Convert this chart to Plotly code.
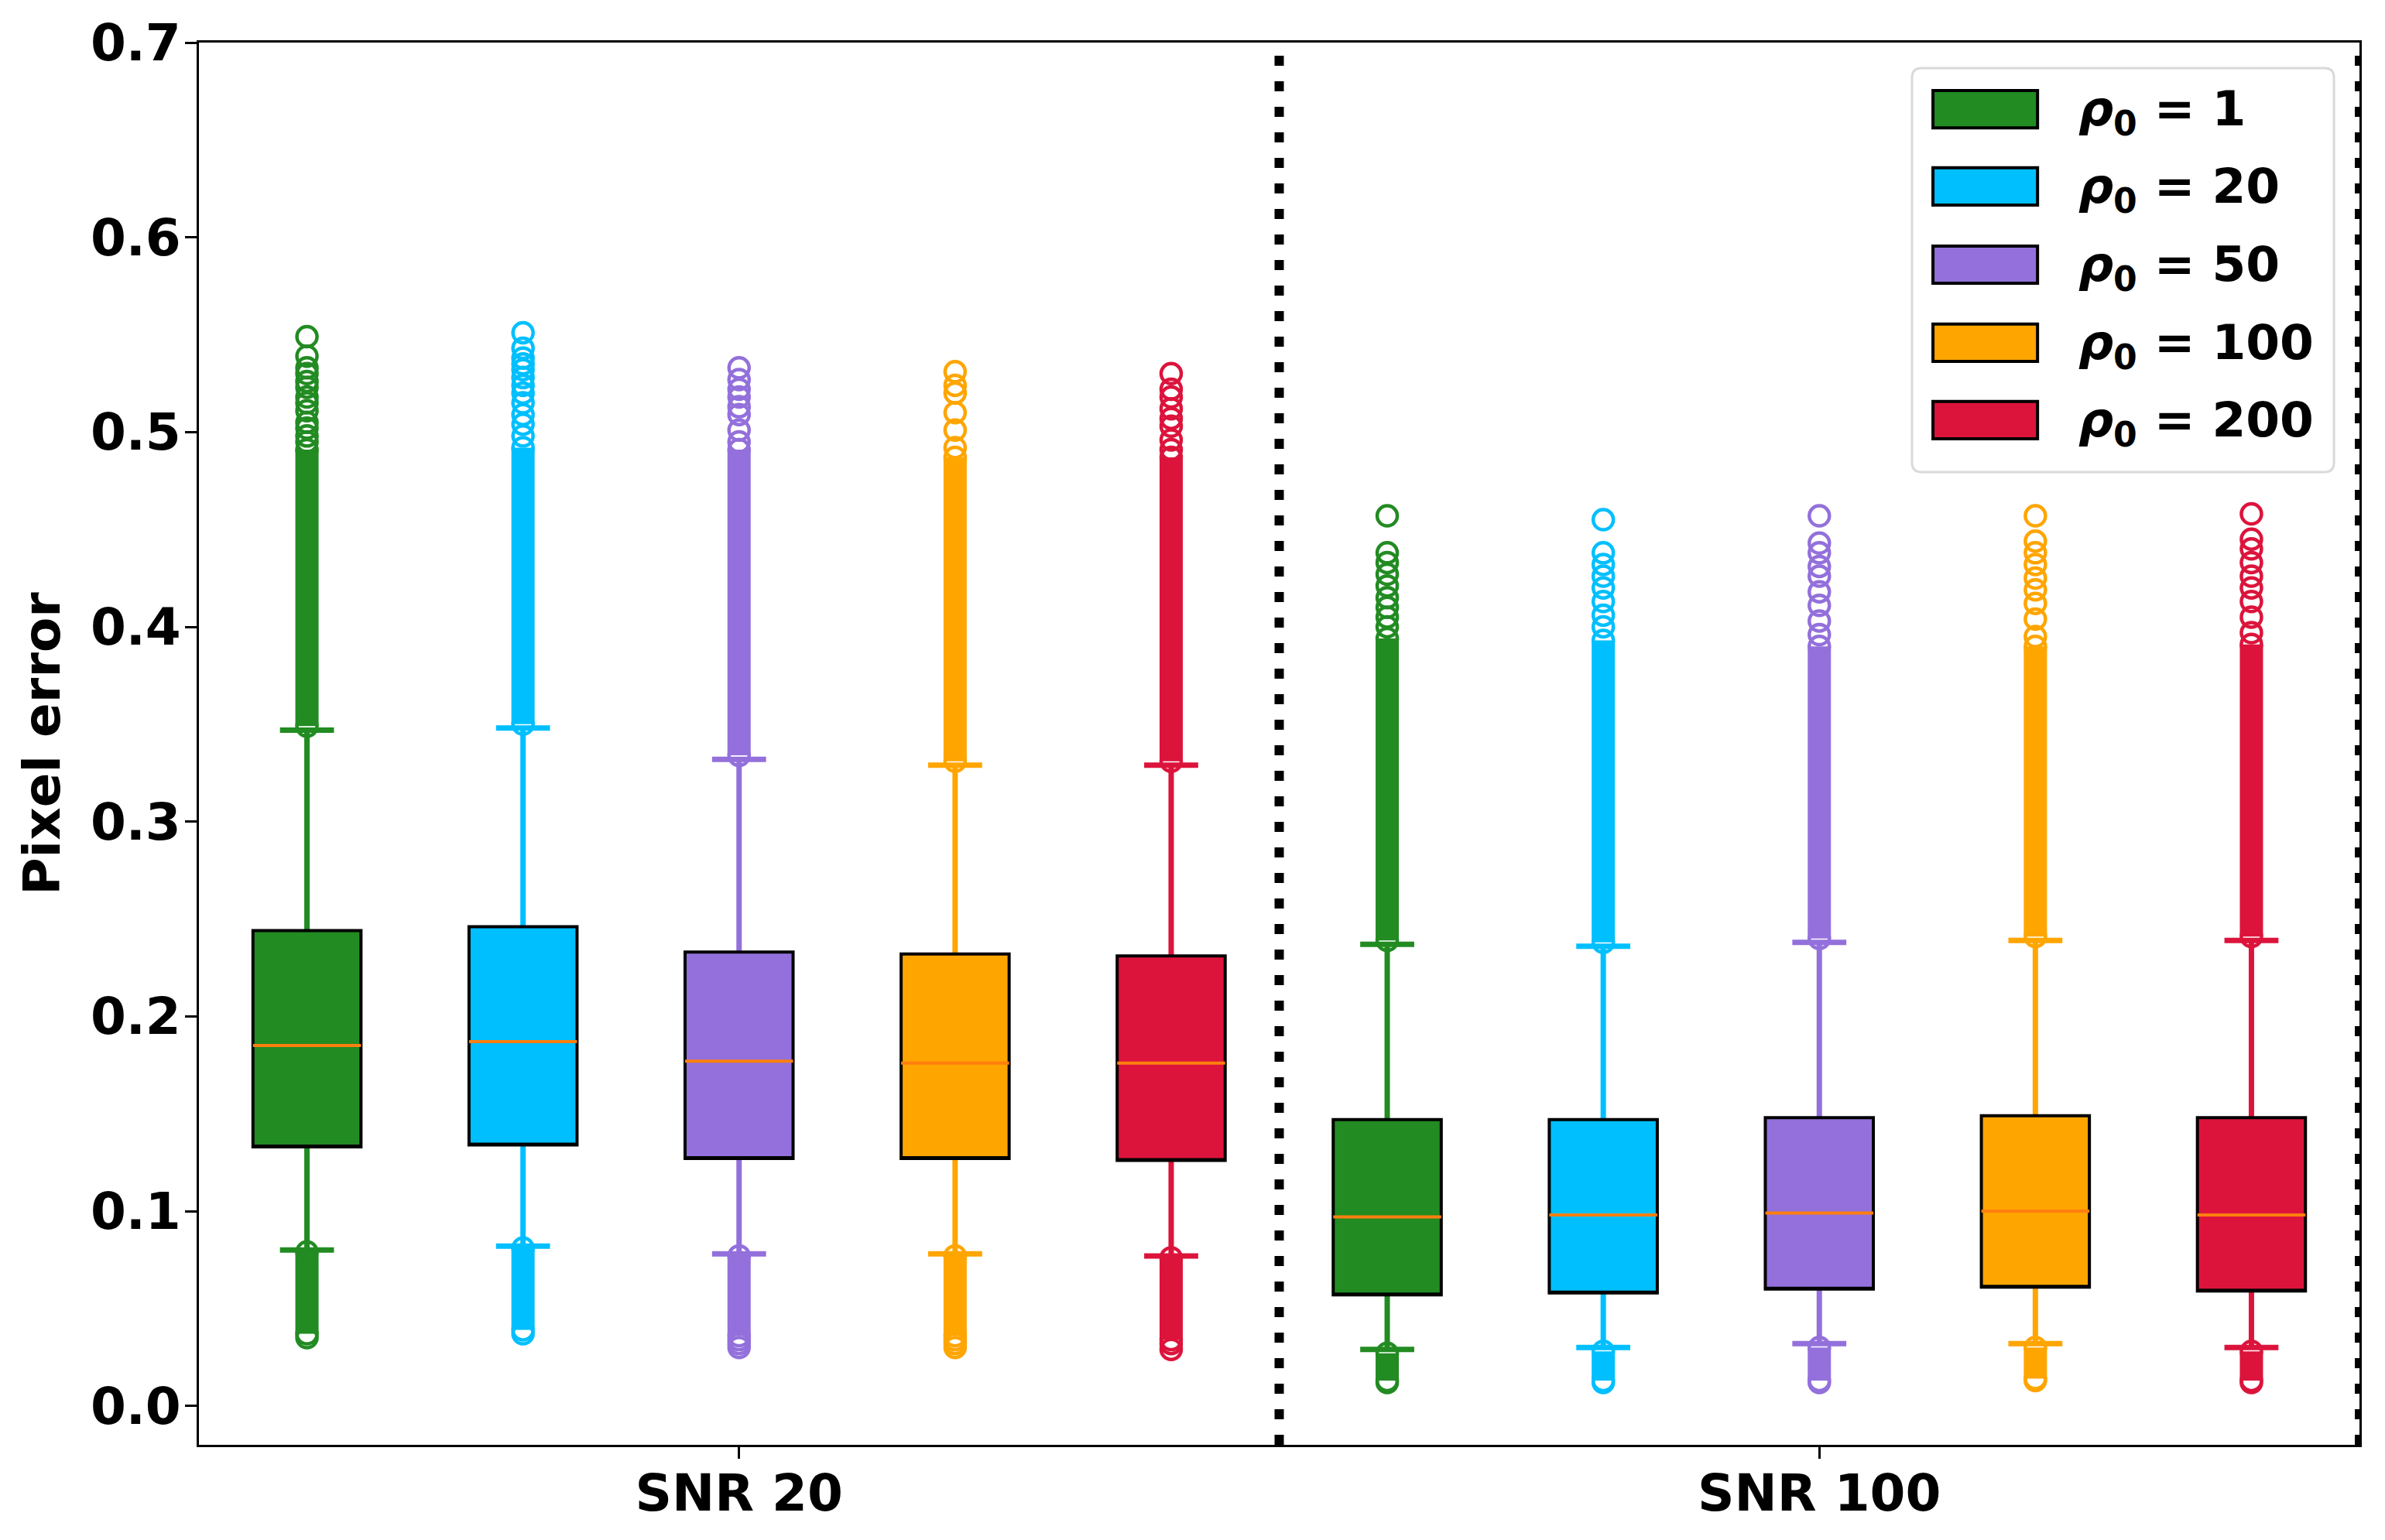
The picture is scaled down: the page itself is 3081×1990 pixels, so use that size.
import plotly.graph_objects as go

# ---- data ----
groups = ["SNR 20", "SNR 100"]
group_ticks = [2, 7]
labels = ["1", "20", "50", "100", "200"]
colors = ["#228B22", "#00BFFF", "#9370DB", "#FFA500", "#DC143C"]

# one entry per box: 5 for SNR 20, then 5 for SNR 100
q1 = [0.133, 0.134, 0.127, 0.127, 0.126, 0.057, 0.058, 0.060, 0.061, 0.059]
median = [0.185, 0.187, 0.177, 0.176, 0.176, 0.097, 0.098, 0.099, 0.100, 0.098]
q3 = [0.244, 0.246, 0.233, 0.232, 0.231, 0.147, 0.147, 0.148, 0.149, 0.148]
upper_whisker = [0.347, 0.348, 0.332, 0.329, 0.329, 0.237, 0.236, 0.238, 0.239, 0.239]
lower_whisker = [0.080, 0.082, 0.078, 0.078, 0.077, 0.029, 0.030, 0.032, 0.032, 0.030]

# fliers: dense runs [low, high] plus the separate circles
high_dense = [
    [0.349, 0.491], [0.350, 0.492], [0.334, 0.491], [0.331, 0.487], [0.331, 0.487],
    [0.239, 0.394], [0.238, 0.393], [0.240, 0.390], [0.241, 0.390], [0.241, 0.391],
]
high_sparse = [
    [0.549, 0.539, 0.533, 0.530, 0.526, 0.523, 0.518, 0.515, 0.511, 0.505, 0.502, 0.498, 0.495],
    [0.551, 0.543, 0.538, 0.535, 0.532, 0.528, 0.524, 0.520, 0.515, 0.509, 0.504, 0.498],
    [0.533, 0.527, 0.522, 0.518, 0.513, 0.509, 0.501, 0.495],
    [0.531, 0.524, 0.520, 0.510, 0.501, 0.492],
    [0.530, 0.522, 0.518, 0.512, 0.507, 0.503, 0.496, 0.491],
    [0.457, 0.438, 0.433, 0.427, 0.421, 0.415, 0.410, 0.405, 0.400],
    [0.455, 0.438, 0.432, 0.426, 0.420, 0.413, 0.406, 0.400],
    [0.457, 0.443, 0.438, 0.431, 0.426, 0.418, 0.411, 0.403, 0.396],
    [0.457, 0.444, 0.438, 0.432, 0.425, 0.419, 0.412, 0.404, 0.395],
    [0.458, 0.445, 0.440, 0.433, 0.426, 0.420, 0.413, 0.405, 0.397],
]
low_dense = [
    [0.037, 0.079], [0.039, 0.081], [0.036, 0.077], [0.036, 0.077], [0.034, 0.076],
    [0.013, 0.027], [0.013, 0.028], [0.013, 0.030], [0.014, 0.030], [0.013, 0.028],
]
low_sparse = [
    [0.035], [0.037], [0.034, 0.032, 0.030], [0.034, 0.032, 0.030], [0.032, 0.029],
    [0.012], [0.012], [0.012], [0.013], [0.012],
]

separators = [4.5, 9.5]

FONT = "DejaVu Sans"
FS = 66
BOX_W = 0.5

fig = go.Figure()

for i in range(len(q1)):
    c = colors[i % 5]
    # fliers
    for seg in (high_dense[i], low_dense[i]):
        fig.add_trace(go.Scatter(
            x=[i, i], y=seg, mode="lines",
            line=dict(color=c, width=30), hoverinfo="skip", showlegend=False))
    pts = high_sparse[i] + low_sparse[i] + high_dense[i] + low_dense[i]
    fig.add_trace(go.Scatter(
        x=[i] * len(pts), y=pts, mode="markers",
        marker=dict(symbol="circle-open", size=26, color=c, line=dict(width=4.5)),
        hoverinfo="skip", showlegend=False))
    # whiskers and caps in the box colour (box part collapsed onto the median)
    fig.add_trace(go.Box(
        x=[i], q1=[median[i]], median=[median[i]], q3=[median[i]],
        lowerfence=[lower_whisker[i]], upperfence=[upper_whisker[i]],
        width=0.47, whiskerwidth=0.25 / 0.47, fillcolor="rgba(0,0,0,0)",
        line=dict(color=c, width=7), boxpoints=False, showlegend=False))
    # filled box with black edge (its own median hidden on the lower edge)
    fig.add_trace(go.Box(
        x=[i], q1=[q1[i]], median=[q1[i]], q3=[q3[i]],
        lowerfence=[q1[i]], upperfence=[q3[i]],
        width=BOX_W, whiskerwidth=0, fillcolor=c,
        line=dict(color="black", width=4), boxpoints=False, showlegend=False))
    # median line
    fig.add_trace(go.Box(
        x=[i], q1=[median[i]], median=[median[i]], q3=[median[i]],
        lowerfence=[median[i]], upperfence=[median[i]],
        width=BOX_W, whiskerwidth=0, fillcolor="rgba(0,0,0,0)",
        line=dict(color="#FF7F0E", width=4), boxpoints=False, showlegend=False))

for s in separators:
    fig.add_shape(type="line", xref="x", yref="paper", x0=s, x1=s, y0=0, y1=1,
                  line=dict(color="black", width=12, dash="13px,20px"))

# legend drawn by hand so the patches keep their size
lx0, lx1, ly0, ly1 = 0.7929, 0.9882, 0.6937, 0.9818
rx, ry = 0.0045, 0.0068
fig.add_shape(
    type="path", xref="paper", yref="paper",
    path=(f"M {lx0 + rx},{ly1} L {lx1 - rx},{ly1} Q {lx1},{ly1} {lx1},{ly1 - ry} "
          f"L {lx1},{ly0 + ry} Q {lx1},{ly0} {lx1 - rx},{ly0} "
          f"L {lx0 + rx},{ly0} Q {lx0},{ly0} {lx0},{ly0 + ry} "
          f"L {lx0},{ly1 - ry} Q {lx0},{ly1} {lx0 + rx},{ly1} Z"),
    line=dict(color="#D9D9D9", width=3), fillcolor="white", layer="above")
row_y = [0.9525, 0.8974, 0.8416, 0.7859, 0.7307]
for k, lab in enumerate(labels):
    fig.add_shape(type="rect", xref="paper", yref="paper",
                  x0=0.8026, x1=0.8510, y0=row_y[k] - 0.0133, y1=row_y[k] + 0.0133,
                  fillcolor=colors[k], line=dict(color="black", width=4), layer="above")
    fig.add_annotation(
        xref="paper", yref="paper", x=0.8692, y=row_y[k] - 0.002,
        xanchor="left", yanchor="middle", showarrow=False,
        text=f"<b><i>ρ</i><sub>0</sub> = {lab}</b>",
        font=dict(family=FONT, size=63, color="black", weight="bold"))

axis_common = dict(
    showline=True, mirror=True, linecolor="black", linewidth=3,
    ticks="outside", ticklen=15, tickwidth=3, tickcolor="black",
    showgrid=False, zeroline=False,
    tickfont=dict(family=FONT, size=FS, color="black", weight="bold"),
)

fig.update_layout(
    width=3081, height=1990,
    margin=dict(l=257, r=33, t=55, b=123),
    paper_bgcolor="white", plot_bgcolor="white",
    boxmode="overlay", showlegend=False,
    xaxis=dict(range=[-0.5, 9.5], tickvals=group_ticks, ticktext=groups,
               ticklabelstandoff=-12, **axis_common),
    yaxis=dict(range=[-0.02, 0.7], dtick=0.1, tick0=0, tickformat=".1f",
               ticklabelstandoff=-8,
               title=dict(text="Pixel error", standoff=18,
                          font=dict(family=FONT, size=FS, color="black", weight="bold")),
               **axis_common),
)

fig.write_html("out.html", config={"displayModeBar": False},
               post_script="document.body.style.margin='0';")
